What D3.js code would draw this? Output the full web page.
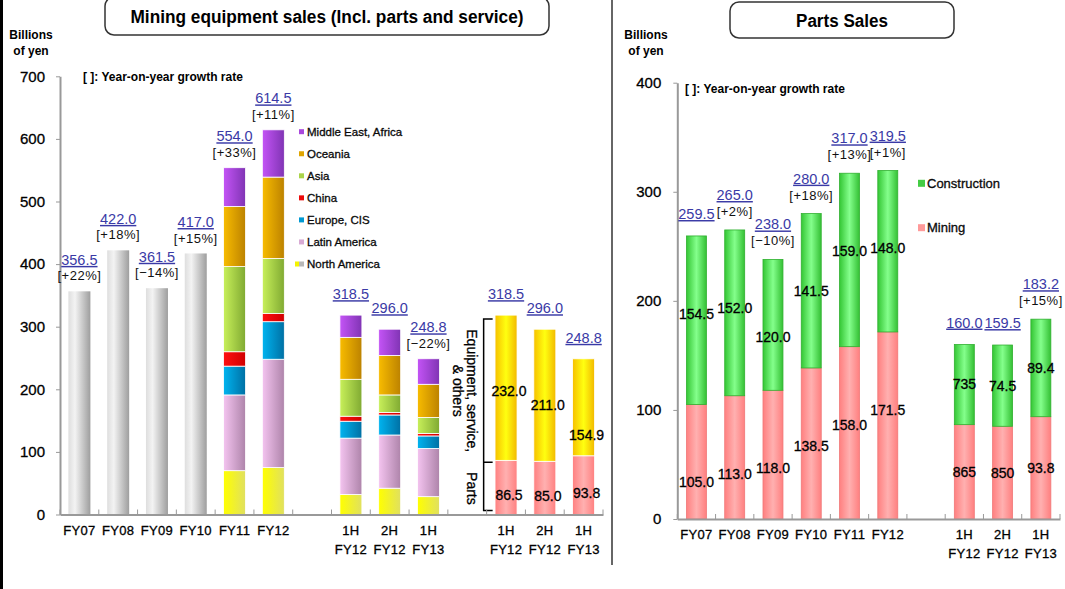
<!DOCTYPE html>
<html>
<head>
<meta charset="utf-8">
<script src="https://cdn.jsdelivr.net/npm/d3@7"></script>
<style>
body{margin:0;background:#fff;}
svg text{font-family:"Liberation Sans",Arial,sans-serif;}
.heavy{stroke:currentColor;stroke-width:0.3px;}
</style>
</head>
<body>
<div id="chart-area"></div>
<script>
// categories
const fyCats = ['FY07','FY08','FY09','FY10','FY11','FY12']
const halfCats = ['1H FY12','2H FY12','1H FY13']

// mining equipment sales
const grayTotals = [356.5, 422.0, 361.5, 417.0]
const regions = ['North America','Latin America','Europe, CIS','China','Asia','Oceania','Middle East, Africa']
const regionCats = ['FY11','FY12','1H FY12','2H FY12','1H FY13']
const northAmerica = [70, 75, 32, 42, 28.5]
const latinAmerica = [121, 173, 90, 85, 77]
const europeCIS = [46, 60, 27, 32, 20]
const china = [23, 13, 8, 4, 4]
const asia = [136, 88, 59, 28, 25.5]
const oceania = [96, 130, 67, 63, 53]
const middleEastAfrica = [62, 75.5, 35.5, 42, 40.8]
const miningTotals = [356.5, 422.0, 361.5, 417.0, 554.0, 614.5, 318.5, 296.0, 248.8]
const miningGrowth = ['+22%','+18%','\u221214%','+15%','+33%','+11%',null,null,'\u221222%']

// equipment vs parts, half years
const equipSales = [232.0, 211.0, 154.9]
const partsSales = [86.5, 85.0, 93.8]
const equipTotals = [318.5, 296.0, 248.8]

// parts sales
const miningParts = [105.0, 113.0, 118.0, 138.5, 158.0, 171.5, 86.5, 85.0, 93.8]
const constructionParts = [154.5, 152.0, 120.0, 141.5, 159.0, 148.0, 73.5, 74.5, 89.4]
const miningPartsText = ['105.0','113.0','118.0','138.5','158.0','171.5','865','850','93.8']
const constructionPartsText = ['154.5','152.0','120.0','141.5','159.0','148.0','735','74.5','89.4']
const partsTotals = [259.5, 265.0, 238.0, 280.0, 317.0, 319.5, 160.0, 159.5, 183.2]
const partsGrowth = [null,'+2%','\u221210%','+18%','+13%','+1%',null,null,'+15%']

const leftTicks = [0,100,200,300,400,500,600,700]
const rightTicks = [0,100,200,300,400]

const WIDTH = 1065, HEIGHT = 589
const BLUE = '#3a3aa6'

const svg = d3.select('#chart-area').append('svg')
.attr('width',WIDTH).attr('height',HEIGHT)

svg.append('rect').attr('width',WIDTH).attr('height',HEIGHT).attr('fill','#fff')

const defs = svg.append('defs')
function grad(id, stops){
    const g = defs.append('linearGradient').attr('id',id)
    .attr('x1','0').attr('x2','1').attr('y1','0').attr('y2','0')
    stops.forEach(s => g.append('stop').attr('offset',s[0]).attr('stop-color',s[1]))
}
grad('g-gray',[[0,'#dedede'],[0.3,'#f3f3f3'],[1,'#9e9e9e']])
const regionLight = ['#ffff00','#f4c4f0','#00b4f0','#ff1010','#c8f05a','#f8bc00','#c454f6']
const regionDark  = ['#e0e060','#ae84aa','#0070a4','#d00000','#80aa32','#bc8200','#8034b4']
regions.forEach((r,i) => grad('g-r'+i,[[0,regionLight[i]],[1,regionDark[i]]]))
grad('g-equip',[[0,'#f6c000'],[0.5,'#ffff10'],[1,'#f2b800']])
grad('g-pink',[[0,'#ff8080'],[0.5,'#ffb0b0'],[1,'#ff8080']])
grad('g-green',[[0,'#34c634'],[0.5,'#84ff8c'],[1,'#34c034']])

// frame, separator
svg.append('line').attr('x1',1.5).attr('x2',1.5).attr('y1',0).attr('y2',HEIGHT)
.attr('stroke','#000').attr('stroke-width',3)
svg.append('line').attr('x1',612).attr('x2',612).attr('y1',0).attr('y2',565)
.attr('stroke','#666').attr('stroke-width',2)

// title boxes
function titleBox(x, y, w, h, label, len, size){
    svg.append('rect').attr('x',x).attr('y',y).attr('width',w).attr('height',h)
    .attr('rx',9).attr('fill','#fff').attr('stroke','#333').attr('stroke-width',1.5)
    svg.append('text').attr('x',x+w/2).attr('y',y+h/2+1).attr('dy','0.35em')
    .attr('text-anchor','middle').attr('font-size',size).attr('font-weight','bold')
    .attr('textLength',len).attr('lengthAdjust','spacingAndGlyphs').text(label)
}
titleBox(105,-3,444,38,'Mining equipment sales (Incl. parts and service)',393,'18px')
titleBox(730,2,224,36,'Parts Sales',92,'18px')

function unitLabel(x){
    const t = svg.append('text').attr('text-anchor','middle').attr('font-size','12px').attr('font-weight','bold')
    t.append('tspan').attr('x',x).attr('y',39).text('Billions')
    t.append('tspan').attr('x',x).attr('y',55).text('of yen')
}
unitLabel(31)
unitLabel(646)

function note(x, y){
    svg.append('text').attr('x',x).attr('y',y).attr('dy','0.35em').attr('font-size','12px')
    .attr('font-weight','bold').text('[  ]: Year-on-year growth rate')
}
note(83,77)
note(685,89)

function boundaryTicks(x, y0){
    const half = x.step()*x.paddingInner()/2
    const pos = x.domain().map(k => x(k) - half)
    pos.push(x.range()[1])
    svg.append('g').selectAll('line').data(pos).enter().append('line')
    .attr('x1',d=>d).attr('x2',d=>d).attr('y1',y0).attr('y2',y0-5)
    .attr('stroke','#999').attr('stroke-width',1)
}

function xAxis(x, y0, keys){
    const gx = svg.append('g').attr('transform',`translate(0,${y0})`)
    .call(d3.axisBottom(x).tickSize(0).tickSizeOuter(0).tickValues(keys.filter(k => !k.startsWith('gap'))))
    gx.select('.domain').attr('stroke','#999').attr('stroke-width',2)
    gx.selectAll('.tick text').attr('y',0).attr('dy',null).attr('fill','#000')
    .attr('class','heavy').attr('letter-spacing','0.3px')
    .attr('font-size','13px').attr('font-family','"Liberation Sans",Arial,sans-serif')
    .text(null)
    .each(function(d){
        const parts = d.replace('P|','').split(' ')
        d3.select(this).selectAll('tspan').data(parts).enter().append('tspan')
        .attr('x',0).attr('dy',(p,i) => i===0 ? 20 : 19).text(p => p)
    })
    boundaryTicks(x, y0)
}

function yAxis(y, x0, ticks, pad){
    const gy = svg.append('g').attr('transform',`translate(${x0},0)`)
    .call(d3.axisLeft(y).tickValues(ticks).tickSize(4).tickSizeOuter(0).tickPadding(pad))
    gy.select('.domain').attr('stroke','#999').attr('stroke-width',2)
    gy.selectAll('.tick line').attr('stroke','#999')
    gy.selectAll('.tick text').attr('fill','#000').attr('font-size','15px').attr('class','heavy')
    .attr('font-family','"Liberation Sans",Arial,sans-serif')
}

function topLabels(x, y, keys, totals, growth, gap){
    keys.forEach((k,i) => {
        const cx = x(k) + x.bandwidth()/2
        const top = y(totals[i])
        const g = growth ? growth[i] : null
        svg.append('text').attr('x',cx).attr('y',top - (g ? gap[0] : gap[2])).attr('dy','0.35em')
        .attr('text-anchor','middle').attr('font-size','14.5px').attr('fill',BLUE)
        .attr('text-decoration','underline').text(totals[i].toFixed(1))
        if (g) {
            svg.append('text').attr('x',cx).attr('y',top - gap[1]).attr('dy','0.35em')
            .attr('text-anchor','middle').attr('font-size','13px').attr('fill','#111')
            .attr('letter-spacing','0.5px').text('['+g+']')
        }
    })
}

/* ---------- left chart ---------- */
const leftKeys = fyCats.concat(['gapA'], halfCats, ['gapB'], halfCats.map(d => 'P|'+d))
const xL = d3.scaleBand().domain(leftKeys).range([60,603])
.paddingInner(0.433).paddingOuter(0.2165)
const yL = d3.scaleLinear().domain([0,700]).range([514.5,76.3])

svg.append('g').selectAll('rect').data(grayTotals).enter().append('rect')
.attr('x',(d,i) => xL(fyCats[i])).attr('y',d => yL(d))
.attr('width',xL.bandwidth()).attr('height',d => yL(0)-yL(d))
.attr('fill','url(#g-gray)')

const regionSeries = [northAmerica, latinAmerica, europeCIS, china, asia, oceania, middleEastAfrica]
const regionTable = regionCats.map((c,i) => {
    const row = {cat:c}
    regions.forEach((r,j) => row[r] = regionSeries[j][i])
    return row
})
const regionStack = d3.stack().keys(regions)(regionTable)
svg.append('g').selectAll('g').data(regionStack).enter().append('g')
.attr('fill',(d,i) => `url(#g-r${i})`)
.selectAll('rect').data(d => d).enter().append('rect')
.attr('x',d => xL(d.data.cat)).attr('y',d => yL(d[1]))
.attr('width',xL.bandwidth()).attr('height',d => yL(d[0])-yL(d[1]))
.attr('stroke','#fff').attr('stroke-width',0.8)

const partTable = halfCats.map((c,i) => ({cat:'P|'+c, parts:partsSales[i], equip:equipSales[i]}))
const partStack = d3.stack().keys(['parts','equip'])(partTable)
const partFill = {parts:'url(#g-pink)', equip:'url(#g-equip)'}
const pg = svg.append('g').selectAll('g').data(partStack).enter().append('g')
.attr('fill',d => partFill[d.key])
pg.selectAll('rect').data(d => d).enter().append('rect')
.attr('x',d => xL(d.data.cat)).attr('y',d => yL(d[1]))
.attr('width',xL.bandwidth()).attr('height',d => yL(d[0])-yL(d[1]))
.attr('stroke','#fff').attr('stroke-width',0.8)
pg.selectAll('text').data(d => d).enter().append('text')
.attr('x',d => xL(d.data.cat) + xL.bandwidth()/2 + 3)
.attr('y',function(d){
    const key = d3.select(this.parentNode).datum().key
    return key === 'equip' ? yL(d[1]) + 76 : (yL(d[0])+yL(d[1]))/2 + 8
})
.attr('dy','0.35em').attr('text-anchor','middle').attr('font-size','14px').attr('fill','#000')
.attr('class','heavy')
.text(function(d){
    const key = d3.select(this.parentNode).datum().key
    return d.data[key].toFixed(1)
})

// bracket
const bx = xL('gapB') + xL.bandwidth() + xL.step()*xL.paddingInner()/2 - 3
const bTop = yL(equipTotals[0]) + 4, bMid = yL(partsSales[0]) + 2, bBot = yL(0) - 4
svg.append('path')
.attr('d',`M${bx+9},${bTop}H${bx}V${bBot}H${bx+9}M${bx},${bMid}H${bx+9}`)
.attr('fill','none').attr('stroke','#000').attr('stroke-width',1.5)
const eqText = svg.append('g').attr('transform',`translate(${bx-19},${(bTop+bMid)/2}) rotate(90)`)
.append('text').attr('text-anchor','middle').attr('font-size','14px').attr('class','heavy')
eqText.append('tspan').attr('x',0).attr('y',-7).attr('dy','0.35em').text('Equipment, service,')
eqText.append('tspan').attr('x',0).attr('y',7).attr('dy','0.35em').text('& others')
svg.append('g').attr('transform',`translate(${bx-19},${(bMid+bBot)/2 + 2}) rotate(90)`)
.append('text').attr('text-anchor','middle').attr('font-size','14px').attr('class','heavy')
.attr('y',-7).attr('dy','0.35em').text('Parts')

xAxis(xL, yL(0), leftKeys)
yAxis(yL, 60, leftTicks, 11)

topLabels(xL, yL, fyCats.concat(halfCats), miningTotals, miningGrowth, [31.5,15.5,21])
topLabels(xL, yL, halfCats.map(d => 'P|'+d), equipTotals, null, [31.5,15.5,21])

// left legend
const legendOrder = regions.map((r,i) => i).reverse()
const lg = svg.append('g').selectAll('g').data(legendOrder).enter().append('g')
.attr('transform',(d,i) => `translate(299,${131.7 + i*22.05})`)
lg.append('rect').attr('x',0).attr('y',-2.5).attr('width',5).attr('height',5)
.attr('fill',d => regionLight[d] === '#ffff00' ? '#b8b8b8' : d3.interpolateRgb(regionLight[d],regionDark[d])(0.4))
lg.filter(d => d === 0).append('rect').attr('x',-4).attr('y',-2.5).attr('width',4).attr('height',5)
.attr('fill','#f4f400')
lg.append('text').attr('x',8).attr('dy','0.35em').attr('font-size','11.5px').attr('fill','#111')
.attr('class','heavy').text(d => regions[d])

/* ---------- right chart ---------- */
const rightKeys = fyCats.concat(['gapC'], halfCats)
const barKeys = fyCats.concat(halfCats)
const xR = d3.scaleBand().domain(rightKeys).range([677.3,1060])
.paddingInner(0.478).paddingOuter(0.239)
const yR = d3.scaleLinear().domain([0,400]).range([519,82.7])

const partsTable = barKeys.map((c,i) => ({cat:c, idx:i, mining:miningParts[i], construction:constructionParts[i]}))
const partsStack = d3.stack().keys(['mining','construction'])(partsTable)
const rFill = {mining:'url(#g-pink)', construction:'url(#g-green)'}
const rStroke = {mining:'#f07878', construction:'#30b030'}
const rText = {mining:miningPartsText, construction:constructionPartsText}
const rg = svg.append('g').selectAll('g').data(partsStack).enter().append('g')
rg.selectAll('rect').data(d => d.map(v => Object.assign(v,{key:d.key}))).enter().append('rect')
.attr('x',d => xR(d.data.cat)).attr('y',d => yR(d[1]))
.attr('width',xR.bandwidth()).attr('height',d => yR(d[0])-yR(d[1]))
.attr('fill',d => rFill[d.key]).attr('stroke',d => rStroke[d.key]).attr('stroke-width',0.8)

xAxis(xR, yR(0), rightKeys)
yAxis(yR, 677.3, rightTicks, 12)

rg.selectAll('text').data(d => d).enter().append('text')
.attr('x',d => xR(d.data.cat) + xR.bandwidth()/2)
.attr('y',d => halfCats.includes(d.data.cat) ? (yR(d[0])+yR(d[1]))/2 : yR(d[1]) + 78)
.attr('dy','0.35em').attr('text-anchor','middle').attr('font-size','14px').attr('fill','#000')
.attr('class','heavy').text(d => rText[d.key][d.data.idx])

topLabels(xR, yR, barKeys, partsTotals, partsGrowth, [35,18.5,22])

// right legend
const rLegend = [['Construction','#44cc44'],['Mining','#ff9a9a']]
const rl = svg.append('g').selectAll('g').data(rLegend).enter().append('g')
.attr('transform',(d,i) => `translate(918,${183.3 + i*44.4})`)
rl.append('rect').attr('x',0).attr('y',-3.5).attr('width',7).attr('height',7).attr('fill',d => d[1])
rl.append('text').attr('x',9).attr('dy','0.35em').attr('font-size','13px').attr('fill','#111')
.attr('class','heavy').text(d => d[0])
</script>
</body>
</html>
